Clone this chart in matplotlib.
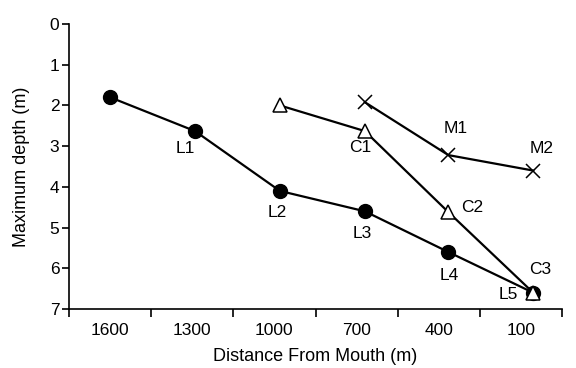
import matplotlib.pyplot as plt

plt.rcParams['font.family'] = ['Liberation Sans', 'DejaVu Sans']

# data
l_dist = [1600, 1290, 980, 670, 365, 55]
l_depth = [1.8, 2.63, 4.1, 4.6, 5.6, 6.6]
l_names = [None, 'L1', 'L2', 'L3', 'L4', 'L5']

c_dist = [980, 670, 365, 55]
c_depth = [2.0, 2.63, 4.62, 6.6]
c_names = [None, 'C1', 'C2', 'C3']

m_dist = [670, 365, 55]
m_depth = [1.92, 3.22, 3.6]
m_names = [None, 'M1', 'M2']

x_ticks = [1600, 1300, 1000, 700, 400, 100]

fig = plt.figure(figsize=(5.76, 3.68), dpi=100)
ax = fig.add_axes([0.1198, 0.1603, 0.8559, 0.7745])

ax.plot(l_dist, l_depth, '-o', color='black', lw=1.6, ms=10, zorder=2)
ax.plot(c_dist, c_depth, '-^', color='black', mfc='white', mec='black',
        lw=1.6, ms=10, mew=1.1, zorder=3)
ax.plot(m_dist, m_depth, '-x', color='black', lw=1.6, ms=10, mew=1.1, zorder=3)

# label offsets in pixels (dx, dy down)
l_off = [None, (-10, 17), (-3, 22), (-3, 22), (1, 23), (-25, 2)]
c_off = [None, (-5, 16), (24, -5), (7, -23)]
m_off = [None, (7, -27), (8, -22)]

for xs, ys, names, offs in [(l_dist, l_depth, l_names, l_off),
                            (c_dist, c_depth, c_names, c_off),
                            (m_dist, m_depth, m_names, m_off)]:
    for x, y, n, o in zip(xs, ys, names, offs):
        if n is None:
            continue
        ax.annotate(n, (x, y), xytext=(o[0] * 0.72, -o[1] * 0.72),
                    textcoords='offset points', ha='center', va='center',
                    fontsize=12.5)

ax.set_xlim(1750, -50)
ax.set_ylim(7, 0)
ax.set_xticks(x_ticks)
ax.set_xticks([1750, 1450, 1150, 850, 550, 250, -50], minor=True)
ax.tick_params(axis='x', which='major', length=0, pad=10, labelsize=12.5)
ax.tick_params(axis='x', which='minor', length=6, width=1.2, direction='out')
ax.set_yticks(range(0, 8))
ax.tick_params(axis='y', length=5, width=1.2, direction='out', labelsize=12.5, pad=2)

for s in ['top', 'right']:
    ax.spines[s].set_visible(False)
for s in ['left', 'bottom']:
    ax.spines[s].set_linewidth(1.2)

ax.set_xlabel('Distance From Mouth (m)', fontsize=13, labelpad=7)
ax.set_ylabel('Maximum depth (m)', fontsize=13, labelpad=14)

fig.savefig('out.png', dpi=100)
